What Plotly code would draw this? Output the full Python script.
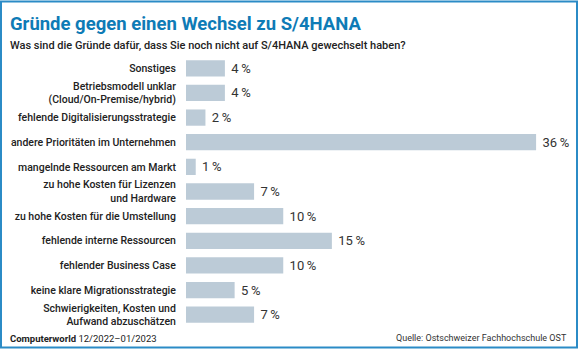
import plotly.graph_objects as go

categories = [
    "Sonstiges",
    "Betriebsmodell unklar<br>(Cloud/On-Premise/hybrid)",
    "fehlende Digitalisierungsstrategie",
    "andere Prioritäten im Unternehmen",
    "mangelnde Ressourcen am Markt",
    "zu hohe Kosten für Lizenzen<br>und Hardware",
    "zu hohe Kosten für die Umstellung",
    "fehlende interne Ressourcen",
    "fehlender Business Case",
    "keine klare Migrationsstrategie",
    "Schwierigkeiten, Kosten und<br>Aufwand abzuschätzen",
]
values = [4, 4, 2, 36, 1, 7, 10, 15, 10, 5, 7]

title = "Gründe gegen einen Wechsel zu S/4HANA"
subtitle = "Was sind die Gründe dafür, dass Sie noch nicht auf S/4HANA gewechselt haben?"
footer_left = "<b>Computerworld</b> 12/2022–01/2023"
footer_right = "Quelle: Ostschweizer Fachhochschule OST"

W, H = 580, 350
L, R, T, B = 186, 5, 55.6, 22.6
pw, ph = W - L - R, H - T - B

FONT = "Roboto"
fig = go.Figure(go.Bar(
    x=values, y=categories, orientation="h",
    marker=dict(color="#bccbd7", line=dict(width=0)),
    text=values, texttemplate="\u2005%{x}\u2009%", textposition="outside",
    textfont=dict(family=FONT, size=13, color="#333333"),
    cliponaxis=False, hoverinfo="skip",
))

def px(x):
    return (x - L) / pw

def py(y):
    return (H - B - y) / ph

fig.update_layout(
    width=W, height=H,
    margin=dict(l=L, r=R, t=T, b=B),
    paper_bgcolor="white", plot_bgcolor="white",
    bargap=0.34, showlegend=False,
    xaxis=dict(range=[0, 40], visible=False, fixedrange=True),
    yaxis=dict(autorange="reversed", showgrid=False, zeroline=False, showline=False,
               ticks="outside", ticklen=7, tickcolor="rgba(0,0,0,0)",
               tickfont=dict(family=FONT, size=10.5, color="#222222", weight=500),
               fixedrange=True),
    font=dict(family=FONT),
    annotations=[
        dict(text=title, xref="paper", yref="paper", x=px(8), y=py(10), xanchor="left", yanchor="top",
             showarrow=False, font=dict(family=FONT, size=18.5, color="#0e7bb6", weight=700)),
        dict(text=subtitle, xref="paper", yref="paper", x=px(8), y=py(37), xanchor="left", yanchor="top",
             showarrow=False, font=dict(family=FONT, size=11, color="#222222", weight=500)),
        dict(text=footer_left, xref="paper", yref="paper", x=px(8), y=py(331), xanchor="left", yanchor="top",
             showarrow=False, font=dict(family=FONT, size=9.5, color="#222222")),
        dict(text=footer_right, xref="paper", yref="paper", x=px(569), y=py(331), xanchor="right", yanchor="top",
             showarrow=False, font=dict(family=FONT, size=9, color="#333333")),
    ],
    shapes=[
        dict(type="rect", xref="paper", yref="paper", x0=px(1), x1=px(577), y0=py(1), y1=py(348),
             line=dict(color="#2b8bc6", width=2), fillcolor="rgba(0,0,0,0)", layer="above"),
    ],
)

fig.write_html("out.html")
